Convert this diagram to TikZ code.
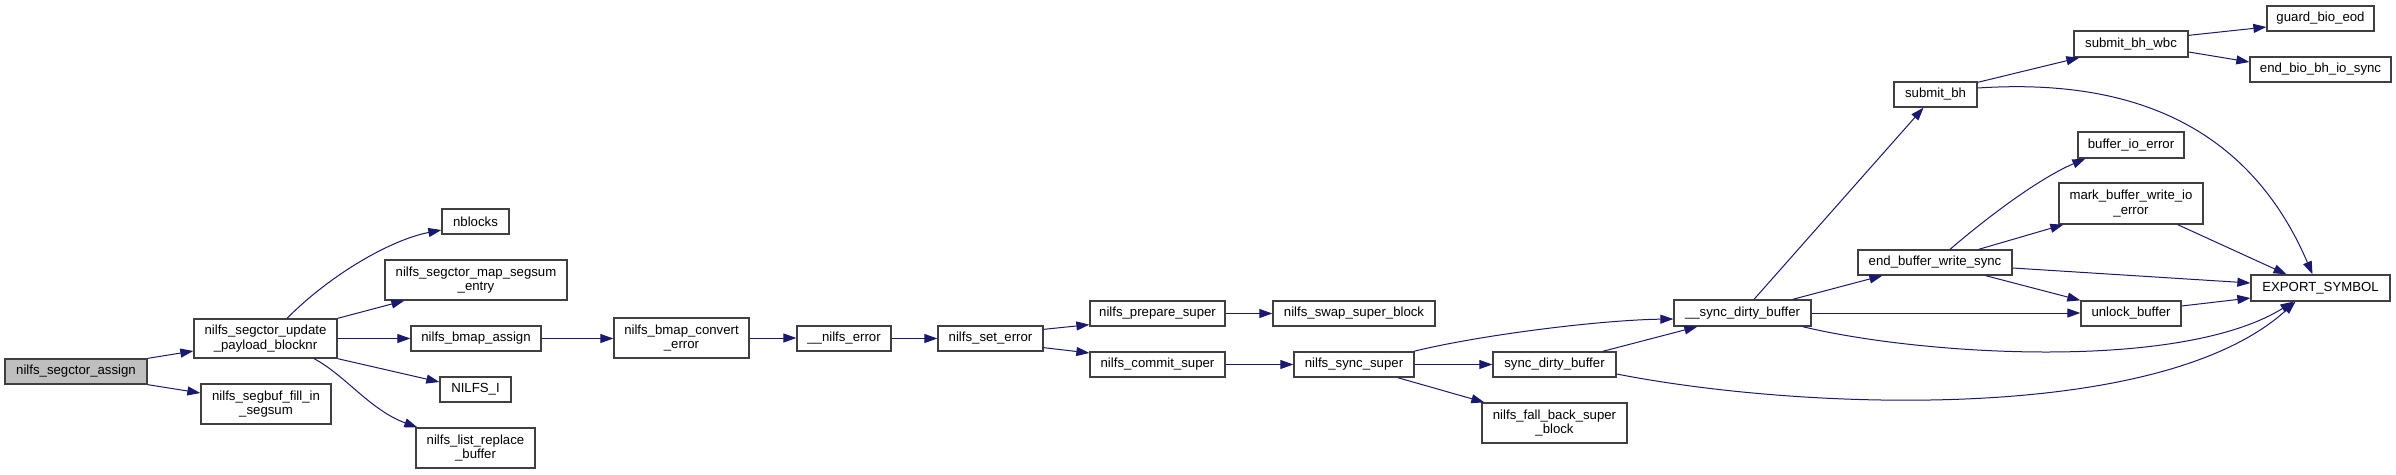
\documentclass[tikz,border=0pt]{standalone}
\usepackage{fontspec}
\setmainfont{Liberation Sans}
\usetikzlibrary{arrows.meta}
\definecolor{edgeblue}{HTML}{191970}
\definecolor{nodeborder}{HTML}{404040}
\definecolor{rootfill}{HTML}{BFBFBF}
\begin{document}
\begin{tikzpicture}[x=1pt,y=-1pt,
  fn/.style={draw=nodeborder, line width=1.3pt, fill=white, inner sep=0pt, align=center,
             font=\fontsize{13.2}{14.5}\selectfont},
  edge/.style={draw=edgeblue, line width=1pt, -{Triangle[length=13pt,width=9pt]}}]
\useasboundingbox[fill=white] (0,0) rectangle (2396,474);

\node[fn, fill=rootfill, minimum width=142pt, minimum height=25pt] (assign) at (76,371.5) {nilfs\_segctor\_assign};
\node[fn, minimum width=143pt, minimum height=39pt] (update) at (265.5,338.5) {nilfs\_segctor\_update\\\_payload\_blocknr};
\node[fn, minimum width=130pt, minimum height=40pt] (segsum) at (266,404) {nilfs\_segbuf\_fill\_in\\\_segsum};
\node[fn, minimum width=67pt, minimum height=25pt] (nblocks) at (475.5,221.5) {nblocks};
\node[fn, minimum width=182pt, minimum height=40pt] (mapseg) at (476,280) {nilfs\_segctor\_map\_segsum\\\_entry};
\node[fn, minimum width=130pt, minimum height=25pt] (bmapassign) at (476,338.5) {nilfs\_bmap\_assign};
\node[fn, minimum width=71pt, minimum height=25pt] (nilfsi) at (475.5,389.5) {NILFS\_I};
\node[fn, minimum width=119pt, minimum height=40pt] (listrepl) at (475.5,448) {nilfs\_list\_replace\\\_buffer};
\node[fn, minimum width=135pt, minimum height=40pt] (convert) at (681.5,338) {nilfs\_bmap\_convert\\\_error};
\node[fn, minimum width=94pt, minimum height=25pt] (nerror) at (844,338.5) {\_\_nilfs\_error};
\node[fn, minimum width=105pt, minimum height=25pt] (seterror) at (990.5,338.5) {nilfs\_set\_error};
\node[fn, minimum width=135pt, minimum height=25pt] (prepare) at (1157.5,313.5) {nilfs\_prepare\_super};
\node[fn, minimum width=135pt, minimum height=25pt] (commit) at (1157.5,364.5) {nilfs\_commit\_super};
\node[fn, minimum width=162pt, minimum height=25pt] (swap) at (1354,313.5) {nilfs\_swap\_super\_block};
\node[fn, minimum width=120pt, minimum height=25pt] (syncsuper) at (1354,364.5) {nilfs\_sync\_super};
\node[fn, minimum width=123pt, minimum height=25pt] (syncdirty) at (1554.5,364.5) {sync\_dirty\_buffer};
\node[fn, minimum width=145pt, minimum height=40pt] (fallback) at (1554.5,423) {nilfs\_fall\_back\_super\\\_block};
\node[fn, minimum width=137pt, minimum height=26pt] (usyncdirty) at (1742.5,313) {\_\_sync\_dirty\_buffer};
\node[fn, minimum width=154pt, minimum height=25pt] (ebws) at (1935,262.5) {end\_buffer\_write\_sync};
\node[fn, minimum width=83pt, minimum height=25pt] (submitbh) at (1935.5,94.5) {submit\_bh};
\node[fn, minimum width=114pt, minimum height=26pt] (wbc) at (2131,44) {submit\_bh\_wbc};
\node[fn, minimum width=107pt, minimum height=25pt] (guard) at (2320.5,18.5) {guard\_bio\_eod};
\node[fn, minimum width=141pt, minimum height=25pt] (endbio) at (2320.5,69.5) {end\_bio\_bh\_io\_sync};
\node[fn, minimum width=106pt, minimum height=26pt] (bioerr) at (2131,145) {buffer\_io\_error};
\node[fn, minimum width=144pt, minimum height=41pt] (mark) at (2131,203.5) {mark\_buffer\_write\_io\\\_error};
\node[fn, minimum width=100pt, minimum height=25pt] (unlock) at (2131,313.5) {unlock\_buffer};
\node[fn, minimum width=139pt, minimum height=26pt] (export) at (2320.5,288) {EXPORT\_SYMBOL};

\draw[edge] (assign.north east) -- ([yshift=-12.5pt]update.west);
\draw[edge] (assign.south east) -- ([yshift=11pt]segsum.west);
\draw[edge] ([xshift=21.5pt]update.north) .. controls (330,275) and (390,240) .. ([yshift=-8.5pt]nblocks.west);
\draw[edge] (update.north east) -- ([xshift=20pt]mapseg.south west);
\draw[edge] (update.east) -- (bmapassign.west);
\draw[edge] (update.south east) -- ([yshift=7.5pt]nilfsi.west);
\draw[edge] ([xshift=48.5pt]update.south) .. controls (345,375) and (370,410) .. ([xshift=2pt]listrepl.north west);
\draw[edge] (bmapassign.east) -- (bmapassign.east -| convert.west);
\draw[edge] (convert.east) -- (convert.east -| nerror.west);
\draw[edge] (nerror) -- (seterror);
\draw[edge] ([yshift=-4pt]seterror.north east) -- ([yshift=2pt]prepare.south west);
\draw[edge] ([yshift=4pt]seterror.south east) -- ([yshift=11.5pt]commit.west);
\draw[edge] (prepare) -- (swap);
\draw[edge] (commit) -- (syncsuper);
\draw[edge] ([xshift=-1pt]syncsuper.north east) .. controls (1480,335) and (1600,320) .. ([yshift=-6pt]usyncdirty.west);
\draw[edge] (syncsuper) -- (syncdirty);
\draw[edge] ([xshift=-17pt]syncsuper.south east) -- ([xshift=3pt]fallback.north west);
\draw[edge] ([xshift=-14pt]syncdirty.north east) -- ([xshift=24pt]usyncdirty.south west);
\draw[edge] ([yshift=-9.5pt]syncdirty.east) .. controls (1800,410) and (2160,425) .. ([xshift=-25pt]export.south);
\draw[edge] ([xshift=11.5pt]usyncdirty.north) -- ([xshift=-12pt]submitbh.south);
\draw[edge] ([xshift=-19pt]usyncdirty.north east) -- ([xshift=25pt]ebws.south west);
\draw[edge] (usyncdirty.east) -- (usyncdirty.east -| unlock.west);
\draw[edge] ([xshift=-9pt]usyncdirty.south east) .. controls (1920,355) and (2180,372) .. ([xshift=-27pt]export.south);
\draw[edge] ([yshift=-1pt]submitbh.north east) -- ([xshift=6pt]wbc.south west);
\draw[edge] ([yshift=6.5pt]submitbh.east) .. controls (2100,80) and (2240,105) .. ([xshift=-8pt]export.north);
\draw[edge] ([yshift=-5pt]wbc.north east) -- ([yshift=-8.5pt]guard.west);
\draw[edge] ([yshift=-8pt]wbc.east) -- ([yshift=7.5pt]endbio.west);
\draw[edge] ([xshift=15pt]ebws.north) .. controls (1990,215) and (2040,178) .. ([xshift=8pt]bioerr.south west);
\draw[edge] ([xshift=-34pt]ebws.north east) -- ([xshift=5pt]mark.south west);
\draw[edge] ([yshift=-5.5pt]ebws.east) -- ([yshift=5pt]export.west);
\draw[edge] ([xshift=-27pt]ebws.south east) -- (unlock.north west);
\draw[edge] ([xshift=-26pt]mark.south east) -- ([xshift=-34pt]export.north);
\draw[edge] ([yshift=7.5pt]unlock.east) -- ([yshift=-10pt]export.west);
\end{tikzpicture}
\end{document}
